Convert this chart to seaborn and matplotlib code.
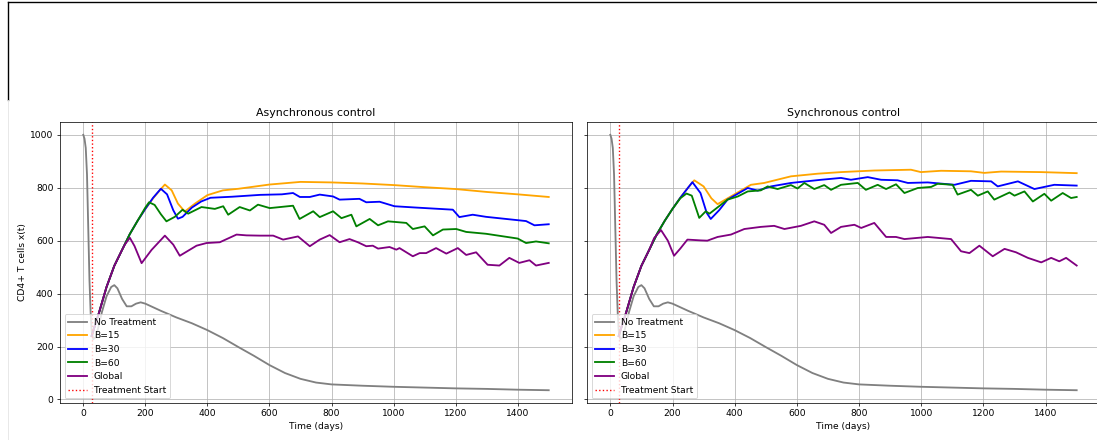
import numpy as np
import pandas as pd
import matplotlib
matplotlib.use("Agg")
import matplotlib.pyplot as plt
from matplotlib.lines import Line2D
import seaborn as sns

TREATMENT_START = 27

# No Treatment (same in both panels)
t_none = [0, 4, 8, 12, 16, 20, 24, 27, 32, 40, 50, 60, 75, 90, 100, 110, 125, 140, 155, 170, 185, 200,
          250, 300, 350, 400, 450, 500, 550, 600, 650, 700, 750, 800, 900, 1000, 1100, 1200, 1300, 1400, 1500]
v_none = [1000, 985, 950, 850, 650, 450, 320, 260, 228, 235, 280, 330, 390, 425, 432, 420, 380, 352, 352, 362, 367, 362,
          335, 310, 288, 262, 232, 198, 165, 130, 100, 78, 64, 57, 52, 48, 45, 42, 40, 37, 35]

# shared rise right after treatment start
t_rise = [27, 35, 50, 75, 100, 125]
v_rise = [240, 270, 325, 425, 505, 565]

# --- Asynchronous control ---
async_t15 = t_rise + [150, 175, 200, 225, 250, 263, 285, 305, 327, 360, 400, 450, 500, 600, 700, 800, 900, 1000, 1100, 1200, 1300, 1400, 1500]
async_v15 = v_rise + [625, 675, 720, 760, 795, 812, 790, 740, 710, 740, 772, 790, 796, 812, 822, 820, 816, 810, 802, 795, 784, 775, 765]

async_t30 = t_rise + [150, 175, 200, 225, 250, 270, 290, 305, 320, 350, 380, 410, 480, 570, 640, 676, 698, 730, 762, 805,
                      826, 890, 912, 955, 1003, 1073, 1191, 1212, 1255, 1298, 1427, 1454, 1500]
async_v30 = v_rise + [625, 675, 720, 762, 796, 775, 715, 683, 690, 725, 748, 762, 766, 773, 775, 780, 765, 765, 774, 767,
                      755, 758, 745, 747, 730, 725, 717, 689, 698, 690, 674, 658, 662]

async_t60 = t_rise + [150, 175, 200, 212, 230, 250, 268, 295, 320, 338, 381, 424, 451, 467, 504, 537, 563, 601, 676, 697, 741,
                      762, 805, 832, 864, 880, 923, 950, 982, 1041, 1062, 1100, 1127, 1159, 1202, 1234, 1298, 1400, 1427, 1459, 1500]
async_v60 = v_rise + [625, 675, 725, 745, 735, 700, 673, 690, 717, 702, 727, 720, 730, 698, 727, 714, 736, 723, 732, 682, 711,
                      689, 711, 685, 698, 654, 682, 658, 673, 667, 644, 654, 620, 642, 644, 633, 626, 608, 591, 597, 590]

async_tg = t_rise + [134, 150, 165, 188, 220, 263, 290, 311, 365, 397, 440, 494, 526, 569, 612, 644, 692, 730, 762, 794, 826,
                     858, 885, 912, 933, 950, 987, 1009, 1019, 1062, 1084, 1105, 1137, 1170, 1207, 1234, 1266, 1303, 1341,
                     1373, 1405, 1438, 1459, 1500]
async_vg = v_rise + [585, 611, 580, 515, 565, 619, 585, 543, 581, 591, 594, 623, 620, 619, 619, 604, 616, 579, 604, 621, 594,
                     606, 594, 579, 581, 570, 576, 566, 572, 541, 553, 553, 572, 551, 572, 546, 556, 509, 506,
                     535, 516, 526, 506, 516]

# --- Synchronous control ---
sync_t15 = t_rise + [150, 175, 200, 225, 250, 270, 300, 325, 345, 398, 452, 495, 581, 667, 742, 849, 967, 999, 1064, 1160, 1203, 1257, 1386, 1500]
sync_v15 = v_rise + [625, 675, 720, 762, 800, 828, 805, 760, 738, 774, 811, 818, 843, 853, 859, 865, 868, 859, 864, 862, 856, 861, 859, 855]

sync_t30 = t_rise + [150, 175, 200, 225, 250, 264, 290, 310, 323, 350, 377, 442, 474, 517, 581, 678, 742, 774, 828, 871,
                     924, 957, 1021, 1107, 1160, 1225, 1246, 1311, 1364, 1428, 1500]
sync_v30 = v_rise + [625, 675, 720, 762, 800, 821, 780, 705, 682, 715, 755, 799, 789, 805, 818, 830, 837, 830, 840, 830,
                     828, 818, 820, 811, 826, 824, 805, 824, 795, 811, 808]

sync_t60 = t_rise + [150, 175, 200, 225, 245, 262, 286, 307, 319, 377, 410, 442, 484, 506, 538, 581, 602, 624, 656, 688, 710,
                     742, 796, 822, 860, 887, 919, 946, 989, 1032, 1053, 1101, 1117, 1160, 1182, 1214, 1235, 1284, 1300,
                     1332, 1359, 1396, 1418, 1455, 1482, 1500]
sync_v60 = v_rise + [625, 675, 720, 760, 778, 770, 686, 711, 702, 755, 767, 786, 790, 805, 795, 810, 797, 818, 795, 810, 792,
                     811, 818, 792, 811, 795, 813, 780, 799, 803, 815, 811, 774, 792, 770, 786, 755, 782, 770,
                     786, 748, 777, 751, 780, 761, 765]

sync_tg = t_rise + [141, 163, 185, 205, 225, 248, 291, 312, 345, 388, 431, 484, 527, 560, 613, 656, 688, 710, 742, 785, 807,
                    849, 887, 919, 946, 1021, 1096, 1128, 1155, 1187, 1230, 1268, 1305, 1343, 1386, 1418, 1444, 1466, 1500]
sync_vg = v_rise + [610, 640, 600, 543, 570, 604, 601, 600, 614, 623, 644, 652, 656, 644, 656, 673, 660, 629, 652, 660, 648,
                    667, 614, 614, 606, 614, 606, 560, 553, 581, 541, 569, 556, 535, 518, 535, 522, 535, 506]

LABELS = ["No Treatment", "B=15", "B=30", "B=60", "Global"]
COLORS = {"No Treatment": "gray", "B=15": "orange", "B=30": "blue", "B=60": "green", "Global": "purple"}

PANELS = [
    ("Asynchronous control", [(t_none, v_none), (async_t15, async_v15), (async_t30, async_v30),
                              (async_t60, async_v60), (async_tg, async_vg)]),
    ("Synchronous control", [(t_none, v_none), (sync_t15, sync_v15), (sync_t30, sync_v30),
                             (sync_t60, sync_v60), (sync_tg, sync_vg)]),
]


def to_frame(series):
    parts = []
    for label, (t, v) in zip(LABELS, series):
        parts.append(pd.DataFrame({"t": t, "x": v, "label": label}))
    return pd.concat(parts, ignore_index=True)


W, H, DPI = 1097, 440, 66
fig = plt.figure(figsize=(W / DPI, H / DPI), dpi=DPI)
ax1 = fig.add_axes([60 / W, 37 / H, 512 / W, 281 / H])
ax2 = fig.add_axes([587 / W, 37 / H, 513 / W, 281 / H], sharey=ax1)

for ax, (title, series) in zip([ax1, ax2], PANELS):
    df = to_frame(series)
    sns.lineplot(data=df, x="t", y="x", hue="label", hue_order=LABELS, palette=COLORS,
                 estimator=None, sort=False, linewidth=2, ax=ax)
    ax.axvline(TREATMENT_START, color="red", linestyle=":", linewidth=1.5, label="Treatment Start")
    ax.set_title(title)
    ax.set_xlabel("Time (days)")
    ax.set_ylabel("")
    ax.grid(True)
    ax.set_xticks([0, 200, 400, 600, 800, 1000, 1200, 1400])
    ax.legend(loc="lower left")

ax1.set_ylabel("CD4+ T cells x(t)")
ax2.tick_params(labelleft=False)

# notebook frame remnants
fig.add_artist(Line2D([8 / W, 1], [1 - 2 / H, 1 - 2 / H], transform=fig.transFigure, color="black", lw=1.5))
fig.add_artist(Line2D([8 / W, 8 / W], [1 - 2 / H, 1 - 100 / H], transform=fig.transFigure, color="black", lw=1.5))
fig.add_artist(Line2D([8 / W, 8 / W], [0, 1 - 100 / H], transform=fig.transFigure, color="#e6e6e6", lw=1))

fig.savefig("out.png", dpi=DPI)
